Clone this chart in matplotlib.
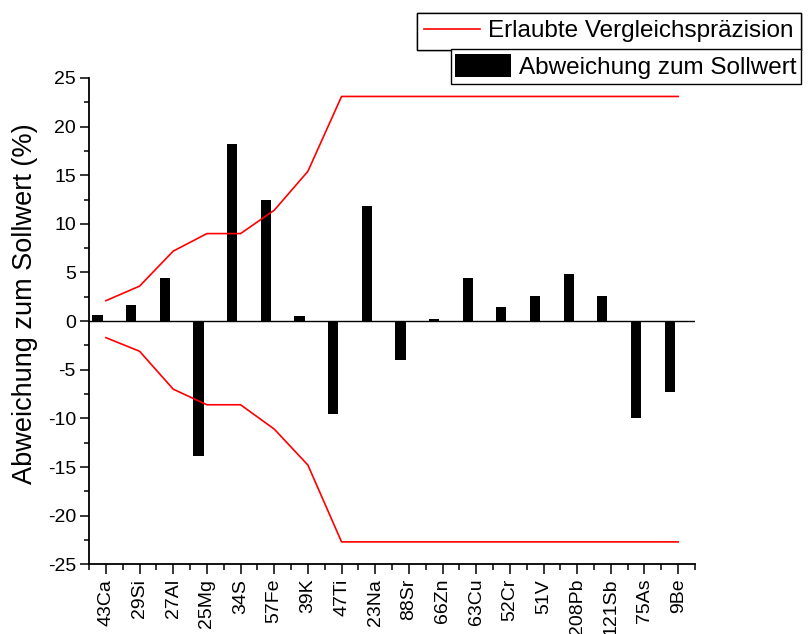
import numpy as np
import matplotlib
matplotlib.use("Agg")
import matplotlib.pyplot as plt
from matplotlib.ticker import MultipleLocator, FixedLocator

plt.rcParams['font.family'] = ['Liberation Sans', 'DejaVu Sans']
plt.rcParams['axes.unicode_minus'] = False

# Isotope und Messwerte
isotope = ['43Ca', '29Si', '27Al', '25Mg', '34S', '57Fe', '39K', '47Ti', '23Na',
           '88Sr', '66Zn', '63Cu', '52Cr', '51V', '208Pb', '121Sb', '75As', '9Be']
abweichung = [0.6, 1.7, 4.4, -13.9, 18.2, 12.5, 0.5, -9.6, 11.8,
              -4.0, 0.2, 4.4, 1.5, 2.6, 4.8, 2.6, -10.0, -7.3]
grenze_oben = [2.1, 3.6, 7.2, 9.0, 9.0, 11.4, 15.4, 23.1, 23.1,
               23.1, 23.1, 23.1, 23.1, 23.1, 23.1, 23.1, 23.1, 23.1]
grenze_unten = [-1.7, -3.1, -7.0, -8.6, -8.6, -11.1, -14.8, -22.7, -22.7,
                -22.7, -22.7, -22.7, -22.7, -22.7, -22.7, -22.7, -22.7, -22.7]

x = np.arange(len(isotope))

fig = plt.figure(figsize=(8.1, 6.34), dpi=100)
ax = fig.add_axes([0.110, 0.110, 0.748, 0.767])

# Balken leicht nach links versetzt, Grenzlinien auf den Kategorien
balken = ax.bar(x - 0.25, abweichung, width=0.3, color='black', zorder=3)
linie, = ax.plot(x, grenze_oben, color='red', lw=1.2, zorder=4)
ax.plot(x, grenze_unten, color='red', lw=1.2, zorder=4)
ax.axhline(0, color='black', lw=1.0, zorder=2)

ax.set_xlim(-0.5, 17.5)
ax.set_ylim(-25, 25)
ax.set_xticks(x)
ax.set_xticklabels(isotope, rotation=90, fontsize=14, va='top', ha='center')
ax.xaxis.set_minor_locator(FixedLocator(np.arange(-0.5, 18, 1)))
ax.yaxis.set_major_locator(MultipleLocator(5))
ax.yaxis.set_minor_locator(MultipleLocator(2.5))
ax.tick_params(axis='y', labelsize=14)

ax.tick_params(which='major', direction='out', length=6.5, width=1.1, pad=3)
ax.tick_params(which='minor', direction='out', length=3.5, width=1.1)
ax.tick_params(axis='x', which='major', length=7.5)
ax.tick_params(axis='x', which='minor', length=4.5)

for s in ['top', 'right']:
    ax.spines[s].set_visible(False)
for s in ['left', 'bottom']:
    ax.spines[s].set_linewidth(1.3)

ax.set_ylabel('Abweichung zum Sollwert (%)', fontsize=19.5)
ax.yaxis.set_label_coords(-0.085, 0.535)

# Zwei getrennte Legendenkästen oben rechts
opts = dict(frameon=True, fancybox=False, edgecolor='black', framealpha=1,
            borderaxespad=0, fontsize=17.5)
leg1 = fig.legend(handles=[linie], labels=['Erlaubte Vergleichspräzision'],
                  loc='upper right', bbox_to_anchor=(801 / 810, 1 - 13 / 634),
                  handlelength=2.3, handletextpad=0.35, borderpad=0.3, **opts)
leg1.get_frame().set_linewidth(1.0)
leg2 = fig.legend(handles=[balken], labels=['Abweichung zum Sollwert'],
                  loc='upper right', bbox_to_anchor=(801 / 810, 1 - 49 / 634),
                  handlelength=2.3, handleheight=1.1, handletextpad=0.3,
                  borderpad=0.2, **opts)
leg2.get_frame().set_linewidth(1.0)
fig.add_artist(leg1)

fig.savefig('out.png', dpi=100)
